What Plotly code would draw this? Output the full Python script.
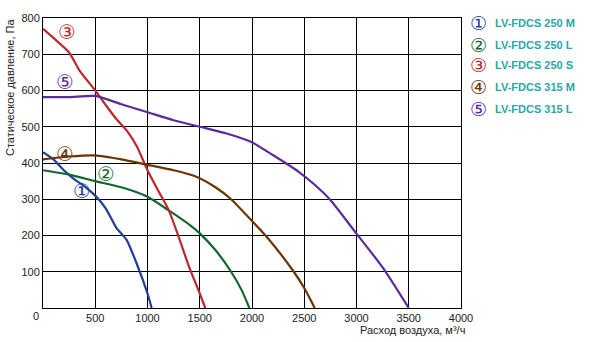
import plotly.graph_objects as go

# Data
x1 = [0, 100, 200, 300, 400, 500, 600, 700, 750, 800, 900, 1000, 1040]
y1 = [430, 410, 380, 355, 335, 310, 275, 222, 205, 188, 120, 40, 0]

x2 = [0, 250, 500, 750, 1000, 1200, 1400, 1500, 1650, 1800, 1900, 1975]
y2 = [380, 368, 350, 333, 307, 270, 230, 206, 160, 100, 50, 0]

x3 = [0, 100, 250, 350, 500, 600, 700, 800, 900, 1000, 1100, 1200, 1300, 1400, 1500, 1553]
y3 = [770, 745, 705, 655, 600, 560, 522, 490, 445, 380, 325, 272, 195, 112, 40, 0]

x4 = [0, 250, 500, 750, 1000, 1250, 1450, 1650, 1800, 2000, 2150, 2400, 2500, 2600]
y4 = [410, 418, 421, 410, 395, 380, 364, 333, 300, 240, 193, 100, 55, 0]

x5 = [0, 250, 500, 750, 1000, 1250, 1500, 1750, 2000, 2200, 2450, 2600, 2750, 3000, 3250, 3500]
y5 = [582, 582, 585, 562, 540, 518, 500, 482, 457, 422, 375, 340, 298, 205, 112, 0]

names = ["LV-FDCS 250 M", "LV-FDCS 250 L", "LV-FDCS 250 S", "LV-FDCS 315 M", "LV-FDCS 315 L"]
marks = ["①", "②", "③", "④", "⑤"]
colors = ["#1c3f9c", "#12672f", "#c0272d", "#6b3500", "#5b2a9b"]
xticks = [500, 1000, 1500, 2000, 2500, 3000, 3500, 4000]
yticks = [100, 200, 300, 400, 500, 600, 700, 800]

# label positions for in-plot circled numbers (data coords)
lab_x = [370, 600, 230, 210, 210]
lab_y = [322, 370, 762, 425, 623]

FONT = "Liberation Sans, Arial, sans-serif"

fig = go.Figure()
for xs, ys, c, n in zip([x1, x2, x3, x4, x5], [y1, y2, y3, y4, y5], colors, names):
    fig.add_trace(go.Scatter(x=xs, y=ys, mode="lines", name=n,
                             line=dict(color=c, width=2.2, shape="spline", smoothing=0.6),
                             showlegend=False))

ann = []
for m, c, lx, ly in zip(marks, colors, lab_x, lab_y):
    ann.append(dict(x=lx, y=ly, xref="x", yref="y", text=m, showarrow=False,
                    font=dict(color=c, size=20, family="DejaVu Sans")))

legend_y = [19, 41, 62, 84, 106]
for m, c, n, py in zip(marks, colors, names, legend_y):
    ann.append(dict(x=478, y=342 - py, xref="paper", yref="paper", text=m, showarrow=False,
                    font=dict(color=c, size=19, family="DejaVu Sans"),
                    xanchor="center", yanchor="middle"))
    ann.append(dict(x=493, y=342 - py, xref="paper", yref="paper", text="<b>" + n + "</b>",
                    showarrow=False, font=dict(color="#2aa6a8", size=11, family=FONT),
                    xanchor="left", yanchor="middle"))

# convert pixel coords for paper annotations
W, H = 597, 342
L, R, T, B = 43, 136, 14, 34
pw, ph = W - L - R, H - T - B
for a in ann:
    if a["xref"] == "paper":
        a["x"] = (a["x"] - L) / pw
        a["y"] = (a["y"] - B) / ph

ann.append(dict(x=(36 - L) / pw, y=(H - 316 - B) / ph, xref="paper", yref="paper", text="0",
                showarrow=False, font=dict(size=11, color="#222", family=FONT),
                xanchor="center", yanchor="middle"))
ann.append(dict(x=(467 - L) / pw, y=(H - 330 - B) / ph, xref="paper", yref="paper",
                text="Расход воздуха, м³/ч", showarrow=False,
                font=dict(size=11, color="#222", family=FONT), xanchor="right", yanchor="middle"))
ann.append(dict(x=(10 - L) / pw, y=(H - 84 - B) / ph, xref="paper", yref="paper",
                text="Статическое давление, Па", showarrow=False, textangle=-90,
                font=dict(size=11, color="#222", family=FONT), xanchor="center", yanchor="middle"))

fig.update_layout(
    width=W, height=H, margin=dict(l=L, r=R, t=T, b=B),
    paper_bgcolor="white", plot_bgcolor="white",
    font=dict(family=FONT, size=11, color="#222"),
    annotations=ann,
    xaxis=dict(range=[0, 4000], tickvals=xticks, ticktext=[str(v) for v in xticks],
               showgrid=True, gridcolor="black", gridwidth=1, showline=True, linecolor="black",
               linewidth=1, mirror=True, ticks="", zeroline=False, fixedrange=True,
               ticklabelstandoff=0,
               tickfont=dict(size=11, color="#222")),
    yaxis=dict(range=[0, 800], tickvals=yticks, ticktext=[str(v) for v in yticks],
               showgrid=True, gridcolor="black", gridwidth=1, showline=True, linecolor="black",
               linewidth=1, mirror=True, ticks="", zeroline=False, fixedrange=True,
               tickfont=dict(size=11, color="#222")),
)

fig.write_html("out.html")
